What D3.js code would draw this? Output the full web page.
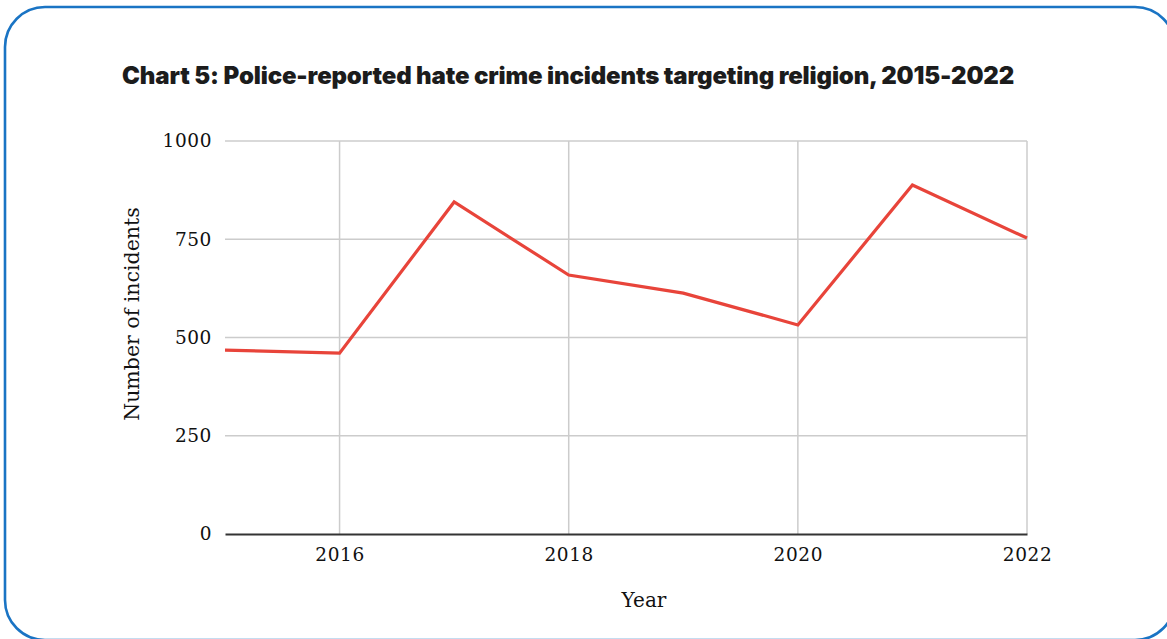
<!DOCTYPE html>
<html>
<head>
<meta charset="utf-8">
<script src="https://cdn.jsdelivr.net/npm/d3@7"></script>
<style>
  html, body { margin: 0; padding: 0; background: #fff; }
  svg { display: block; }
</style>
</head>
<body>
<svg id="chart" width="1167" height="639"></svg>
<script>
// Police-reported hate crime incidents targeting religion
const years = [2015, 2016, 2017, 2018, 2019, 2020, 2021, 2022];
const incidents = [468, 460, 845, 659, 613, 532, 888, 753];
const yTicks = [0, 250, 500, 750, 1000];
const xTicks = [2016, 2018, 2020, 2022];

const titleText = "Chart 5: Police-reported hate crime incidents targeting religion, 2015-2022";
const xTitle = "Year";
const yTitle = "Number of incidents";

const svg = d3.select("#chart");
const W = 1167, H = 639;
const margin = { left: 225, right: 140, top: 141, bottom: 105 };

// Rounded blue frame
svg.append("rect")
  .attr("x", 5).attr("y", 7)
  .attr("width", 1170).attr("height", 633)
  .attr("rx", 40).attr("ry", 40)
  .attr("fill", "#fff")
  .attr("stroke", "#1a74c4")
  .attr("stroke-width", 2.6);

// Title: heavy, tightly tracked
svg.append("text")
  .attr("x", 122).attr("y", 84)
  .attr("textLength", 891)
  .attr("lengthAdjust", "spacing")
  .attr("font-family", "Inter, 'Noto Sans', sans-serif")
  .attr("font-weight", 900)
  .attr("font-size", 24)
  .attr("letter-spacing", -1.2)
  .attr("fill", "#1c1c1c")
  .text(titleText);

const x = d3.scaleLinear()
  .domain([2015, 2022])
  .range([margin.left, W - margin.right]);
const y = d3.scaleLinear()
  .domain([0, 1000])
  .range([H - margin.bottom, margin.top]);

const serif = "'DejaVu Serif', Georgia, serif";

// Horizontal grid
svg.append("g")
  .selectAll("line")
  .data(yTicks.filter(d => d > 0))
  .join("line")
  .attr("x1", x(2015)).attr("x2", x(2022))
  .attr("y1", d => y(d)).attr("y2", d => y(d))
  .attr("stroke", "#cccccc")
  .attr("stroke-width", 1.5);

// Vertical grid
svg.append("g")
  .selectAll("line")
  .data(xTicks)
  .join("line")
  .attr("x1", d => x(d)).attr("x2", d => x(d))
  .attr("y1", y(1000)).attr("y2", y(0))
  .attr("stroke", "#cccccc")
  .attr("stroke-width", 1.5);

// Y axis labels
const yAxis = d3.axisLeft(y).tickValues(yTicks).tickFormat(d3.format("d")).tickSize(0).tickPadding(13);
const gy = svg.append("g")
  .attr("transform", `translate(${x(2015)},0)`)
  .call(yAxis);
gy.select(".domain").remove();
gy.selectAll("text")
  .attr("font-family", serif)
  .attr("font-size", 18.5)
  .attr("letter-spacing", 0.6)
  .attr("fill", "#111");

// X axis
const xAxis = d3.axisBottom(x).tickValues(xTicks).tickFormat(d3.format("d")).tickSize(0).tickPadding(14);
const gx = svg.append("g")
  .attr("transform", `translate(0,${y(0)})`)
  .call(xAxis);
gx.select(".domain")
  .attr("stroke", "#333333")
  .attr("stroke-width", 2);
gx.selectAll("text")
  .attr("font-family", serif)
  .attr("font-size", 18.5)
  .attr("letter-spacing", 0.6)
  .attr("fill", "#111");

// Series line
const line = d3.line()
  .x((d, i) => x(years[i]))
  .y(d => y(d));
svg.append("path")
  .datum(incidents)
  .attr("d", line)
  .attr("fill", "none")
  .attr("stroke", "#e8443a")
  .attr("stroke-width", 3.2)
  .attr("stroke-linejoin", "miter");

// Axis titles
svg.append("text")
  .attr("x", 644).attr("y", 607)
  .attr("text-anchor", "middle")
  .attr("font-family", serif)
  .attr("font-size", 20)
  .attr("fill", "#111")
  .text(xTitle);

svg.append("text")
  .attr("transform", "translate(139,314) rotate(-90)")
  .attr("text-anchor", "middle")
  .attr("font-family", serif)
  .attr("font-size", 20.5)
  .attr("fill", "#111")
  .text(yTitle);
</script>
</body>
</html>
